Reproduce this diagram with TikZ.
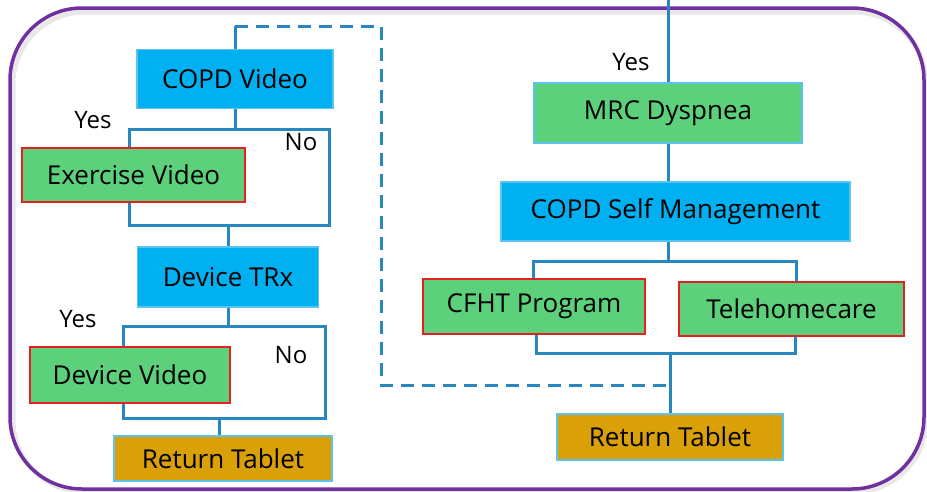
\documentclass[tikz,border=0pt]{standalone}
\usepackage{fontspec}
\setmainfont{Open Sans}
\usetikzlibrary{positioning}
\definecolor{boxblue}{RGB}{0,176,240}
\definecolor{boxgreen}{RGB}{92,208,122}
\definecolor{boxred}{RGB}{228,32,32}
\definecolor{boxgold}{RGB}{218,160,8}
\definecolor{rimblue}{RGB}{90,195,240}
\definecolor{linkblue}{RGB}{41,134,192}
\definecolor{framepurple}{RGB}{112,48,160}
\tikzset{
    every node/.style={font=\fontsize{26}{30}\selectfont,inner sep=0pt,text=black},
    box node/.style={draw,rectangle,align=center},
    blue node/.style={box node,fill=boxblue,draw=rimblue,line width=1.5pt},
    green node/.style={box node,fill=boxgreen,draw=boxred,line width=2.4pt},
    plain green node/.style={box node,fill=boxgreen,draw=rimblue,line width=1.5pt},
    tablet node/.style={box node,fill=boxgold,draw=rimblue,line width=2pt},
    answer/.style={font=\fontsize{24}{28}\selectfont},
    link/.style={draw=linkblue,line width=3pt},
    back link/.style={link,dashed,dash pattern=on 13pt off 8pt}
}
\begin{document}
\begin{tikzpicture}[x=1pt,y=-1pt]
    \useasboundingbox (0,0) rectangle (927,491);
    \draw[gray!18,line width=5pt,rounded corners=72] (13,12) rectangle (926,492);
    \draw[framepurple,line width=3.5pt,rounded corners=72] (10,8) rectangle (924,489);

    % left column
    \node[blue node,minimum width=196,minimum height=59] (copdv) at (235,79) {COPD Video};
    \node[green node,minimum width=223,minimum height=54] (exvid) at (133.5,175) {Exercise Video};
    \node[blue node,minimum width=181,minimum height=60] (trx) at (228,277) {Device TRx};
    \node[green node,minimum width=200,minimum height=56] (devvid) at (130,375) {Device Video};
    \node[tablet node,minimum width=218,minimum height=45] (retl) at (223,458.5) {Return Tablet};

    % right column
    \node[plain green node,minimum width=268,minimum height=60] (mrc) at (668,113) {MRC Dyspnea};
    \node[blue node,minimum width=349,minimum height=59] (copdsm) at (675.5,211.5) {COPD Self Management};
    \node[green node,minimum width=222,minimum height=55] (cfht) at (534,306.5) {CFHT Program};
    \node[green node,minimum width=225,minimum height=54] (tele) at (791.5,309) {Telehomecare};
    \node[tablet node,minimum width=226,minimum height=46] (retr) at (670,437) {Return Tablet};

    \node[answer] (yes1) at (93,120) {Yes};
    \node[answer] (no1) at (301,142) {No};
    \node[answer] (yes2) at (78,319) {Yes};
    \node[answer] (no2) at (291,355) {No};
    \node[answer] (yes3) at (631,62) {Yes};

    \coordinate (top) at (668,0);
    \coordinate (d1) at (235,26);
    \coordinate (d2) at (381,26);
    \coordinate (d3) at (381,385);
    \coordinate (d4) at (670,385);
    \coordinate (a1) at (129,129);
    \coordinate (a2) at (329,129);
    \coordinate (a3) at (329,225);
    \coordinate (a4) at (129,225);
    \coordinate (b1) at (123,326);
    \coordinate (b2) at (325,326);
    \coordinate (b3) at (325,418);
    \coordinate (b4) at (123,418);
    \coordinate (e1) at (533,261);
    \coordinate (e2) at (796,261);
    \coordinate (f1) at (536,353);
    \coordinate (f2) at (795,353);

    \draw[link] (copdv.north) -- (d1);
    \draw[back link] (d1) -- (d2) -- (d3) -- (d4);
    \draw[link] (copdv.south) -- (copdv.south |- a1);
    \draw[link] (exvid.north -| a1) -- (a1) -- (a2) -- (a3) -- (a4) -- (exvid.south -| a4);
    \draw[link] (trx.north) -- (trx.north |- a3);
    \draw[link] (trx.south) -- (trx.south |- b1);
    \draw[link] (devvid.north -| b1) -- (b1) -- (b2) -- (b3) -- (b4) -- (devvid.south -| b4);
    \draw[link] (retl.north -| 219,0) -- (219,418);

    \draw[link] (top) -- (mrc.north);
    \draw[link] (mrc.south) -- (copdsm.north -| mrc.south);
    \draw[link] (copdsm.south -| mrc.south) -- (mrc.south |- e1);
    \draw[link] (cfht.north -| e1) -- (e1) -- (e2) -- (tele.north -| e2);
    \draw[link] (cfht.south -| f1) -- (f1) -- (f2) -- (tele.south -| f2);
    \draw[link] (retr.north) -- (retr.north |- f1);
\end{tikzpicture}
\end{document}
